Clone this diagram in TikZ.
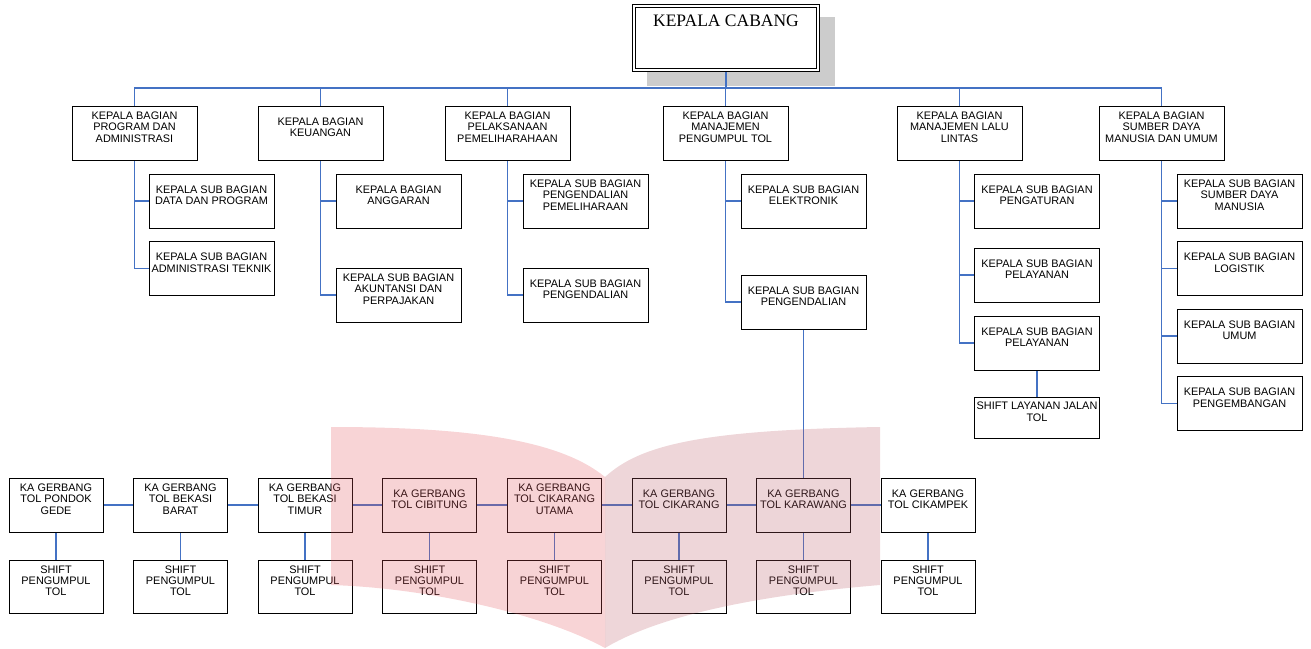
\documentclass[tikz,border=0pt]{standalone}
\usepackage{fontspec}
\setmainfont{Liberation Sans}
\newfontfamily\timesf{Liberation Serif}
\usetikzlibrary{backgrounds}
\definecolor{conn}{RGB}{68,114,196}
\definecolor{shadowgray}{RGB}{204,204,204}
\definecolor{wmleft}{RGB}{227,83,91}
\definecolor{wmright}{RGB}{187,91,103}
\newcommand\bx[1]{\raisebox{4.3pt}[\height][\depth]{\begin{tabular}{@{}c@{}}#1\end{tabular}}}
\begin{document}
\begin{tikzpicture}[x=1pt,y=-1pt,
  font=\fontsize{10.9}{11.3}\selectfont,
  box/.style={draw=black, line width=1pt, fill=white, inner sep=0pt, minimum width=125pt, minimum height=54pt},
  gate/.style={box, minimum width=94pt},
  shiftbox/.style={box, minimum width=94pt, minimum height=53pt},
  link/.style={draw=conn, line width=1.1pt}]
\useasboundingbox (0,0) rectangle (1311,648);

% top
\node[draw, double, double distance=2pt, line width=1pt, fill=white, minimum width=184pt, minimum height=64pt, inner sep=0pt] (kc) at (726,38)
  {\timesf\fontsize{17.5}{20}\selectfont\raisebox{17pt}[\height][\depth]{KEPALA CABANG}};
\coordinate (bus) at (726,88);

% level 2
\node[box] (l1) at (134.5,133) {\bx{KEPALA BAGIAN\\PROGRAM DAN\\ADMINISTRASI}};
\node[box] (l2) at (320.5,133) {\bx{KEPALA BAGIAN\\KEUANGAN}};
\node[box] (l3) at (507.5,133) {\bx{KEPALA BAGIAN\\PELAKSANAAN\\PEMELIHARAHAAN}};
\node[box] (l4) at (725.5,133) {\bx{KEPALA BAGIAN\\MANAJEMEN\\PENGUMPUL TOL}};
\node[box] (l5) at (959.5,133) {\bx{KEPALA BAGIAN\\MANAJEMEN LALU\\LINTAS}};
\node[box] (l6) at (1161.5,133) {\bx{KEPALA BAGIAN\\SUMBER DAYA\\MANUSIA DAN UMUM}};

% level 3
\node[box] (s11) at (211.5,201) {\bx{KEPALA SUB BAGIAN\\DATA DAN PROGRAM}};
\node[box] (s12) at (211.5,268.5) {\bx{KEPALA SUB BAGIAN\\ADMINISTRASI TEKNIK}};
\node[box] (s21) at (398.5,201) {\bx{KEPALA BAGIAN\\ANGGARAN}};
\node[box] (s22) at (398.5,295) {\bx{KEPALA SUB BAGIAN\\AKUNTANSI DAN\\PERPAJAKAN}};
\node[box] (s31) at (585.5,201) {\bx{KEPALA SUB BAGIAN\\PENGENDALIAN\\PEMELIHARAAN}};
\node[box] (s32) at (585.5,295) {\bx{KEPALA SUB BAGIAN\\PENGENDALIAN}};
\node[box] (s41) at (803.5,201) {\bx{KEPALA SUB BAGIAN\\ELEKTRONIK}};
\node[box] (s42) at (803.5,302) {\bx{KEPALA SUB BAGIAN\\PENGENDALIAN}};
\node[box] (s51) at (1037,201) {\bx{KEPALA SUB BAGIAN\\PENGATURAN}};
\node[box] (s52) at (1037,275) {\bx{KEPALA SUB BAGIAN\\PELAYANAN}};
\node[box] (s53) at (1037,343) {\bx{KEPALA SUB BAGIAN\\PELAYANAN}};
\node[box, minimum height=41pt] (s54) at (1037,417.5) {\bx{SHIFT LAYANAN JALAN\\TOL}};
\node[box] (s61) at (1239.5,201) {\bx{KEPALA SUB BAGIAN\\SUMBER DAYA\\MANUSIA}};
\node[box] (s62) at (1239.5,268.5) {\bx{KEPALA SUB BAGIAN\\LOGISTIK}};
\node[box] (s63) at (1239.5,336) {\bx{KEPALA SUB BAGIAN\\UMUM}};
\node[box] (s64) at (1239.5,403.5) {\bx{KEPALA SUB BAGIAN\\PENGEMBANGAN}};

% gates
\node[gate] (g1) at (56,505) {\bx{KA GERBANG\\TOL PONDOK\\GEDE}};
\node[gate] (g2) at (180.5,505) {\bx{KA GERBANG\\TOL BEKASI\\BARAT}};
\node[gate] (g3) at (305,505) {\bx{KA GERBANG\\TOL BEKASI\\TIMUR}};
\node[gate] (g4) at (429.5,505) {\bx{KA GERBANG\\TOL CIBITUNG}};
\node[gate] (g5) at (554.5,505) {\bx{KA GERBANG\\TOL CIKARANG\\UTAMA}};
\node[gate] (g6) at (679,505) {\bx{KA GERBANG\\TOL CIKARANG}};
\node[gate] (g7) at (803.5,505) {\bx{KA GERBANG\\TOL KARAWANG}};
\node[gate] (g8) at (928,505) {\bx{KA GERBANG\\TOL CIKAMPEK}};
\foreach \i/\x in {1/56,2/180.5,3/305,4/429.5,5/554.5,6/679,7/803.5,8/928}
  \node[shiftbox] (h\i) at (\x,586.5) {\bx{SHIFT\\PENGUMPUL\\TOL}};

\begin{scope}[on background layer]
  \fill[shadowgray] (647,17) rectangle (835,86);
  \draw[link] (kc.south) -- (bus);
  \draw[link] (l1.north) |- (bus);
  \draw[link] (l6.north) |- (bus);
  \foreach \n in {l2,l3,l4,l5} \draw[link] (\n.north) -- (\n.north |- bus);
  \foreach \p/\c in {l1/s11,l1/s12,l2/s21,l2/s22,l3/s31,l3/s32,l4/s41,l4/s42,l5/s51,l5/s52,l5/s53,l6/s61,l6/s62,l6/s63,l6/s64}
    \draw[link] (\p.south) |- (\c.west);
  \draw[link] (s53.south) -- (s54.north);
  \draw[link] (s42.south) -- (g7.north);
  \foreach \a/\b in {g1/g2,g2/g3,g3/g4,g4/g5,g5/g6,g6/g7,g7/g8}
    \draw[link] (\a.east) -- (\b.west);
  \foreach \i in {1,...,8} \draw[link] (g\i.south) -- (h\i.north);
\end{scope}

% watermark
\fill[wmleft, fill opacity=0.25] (331,427) .. controls (470,427) and (560,440) .. (605,477)
  -- (605,648) .. controls (545,615) and (430,588) .. (331,585) -- cycle;
\fill[wmright, fill opacity=0.25] (605,477) .. controls (640,445) and (700,430) .. (880,427)
  -- (880,585) .. controls (760,595) and (660,615) .. (605,648) -- cycle;
\end{tikzpicture}
\end{document}
